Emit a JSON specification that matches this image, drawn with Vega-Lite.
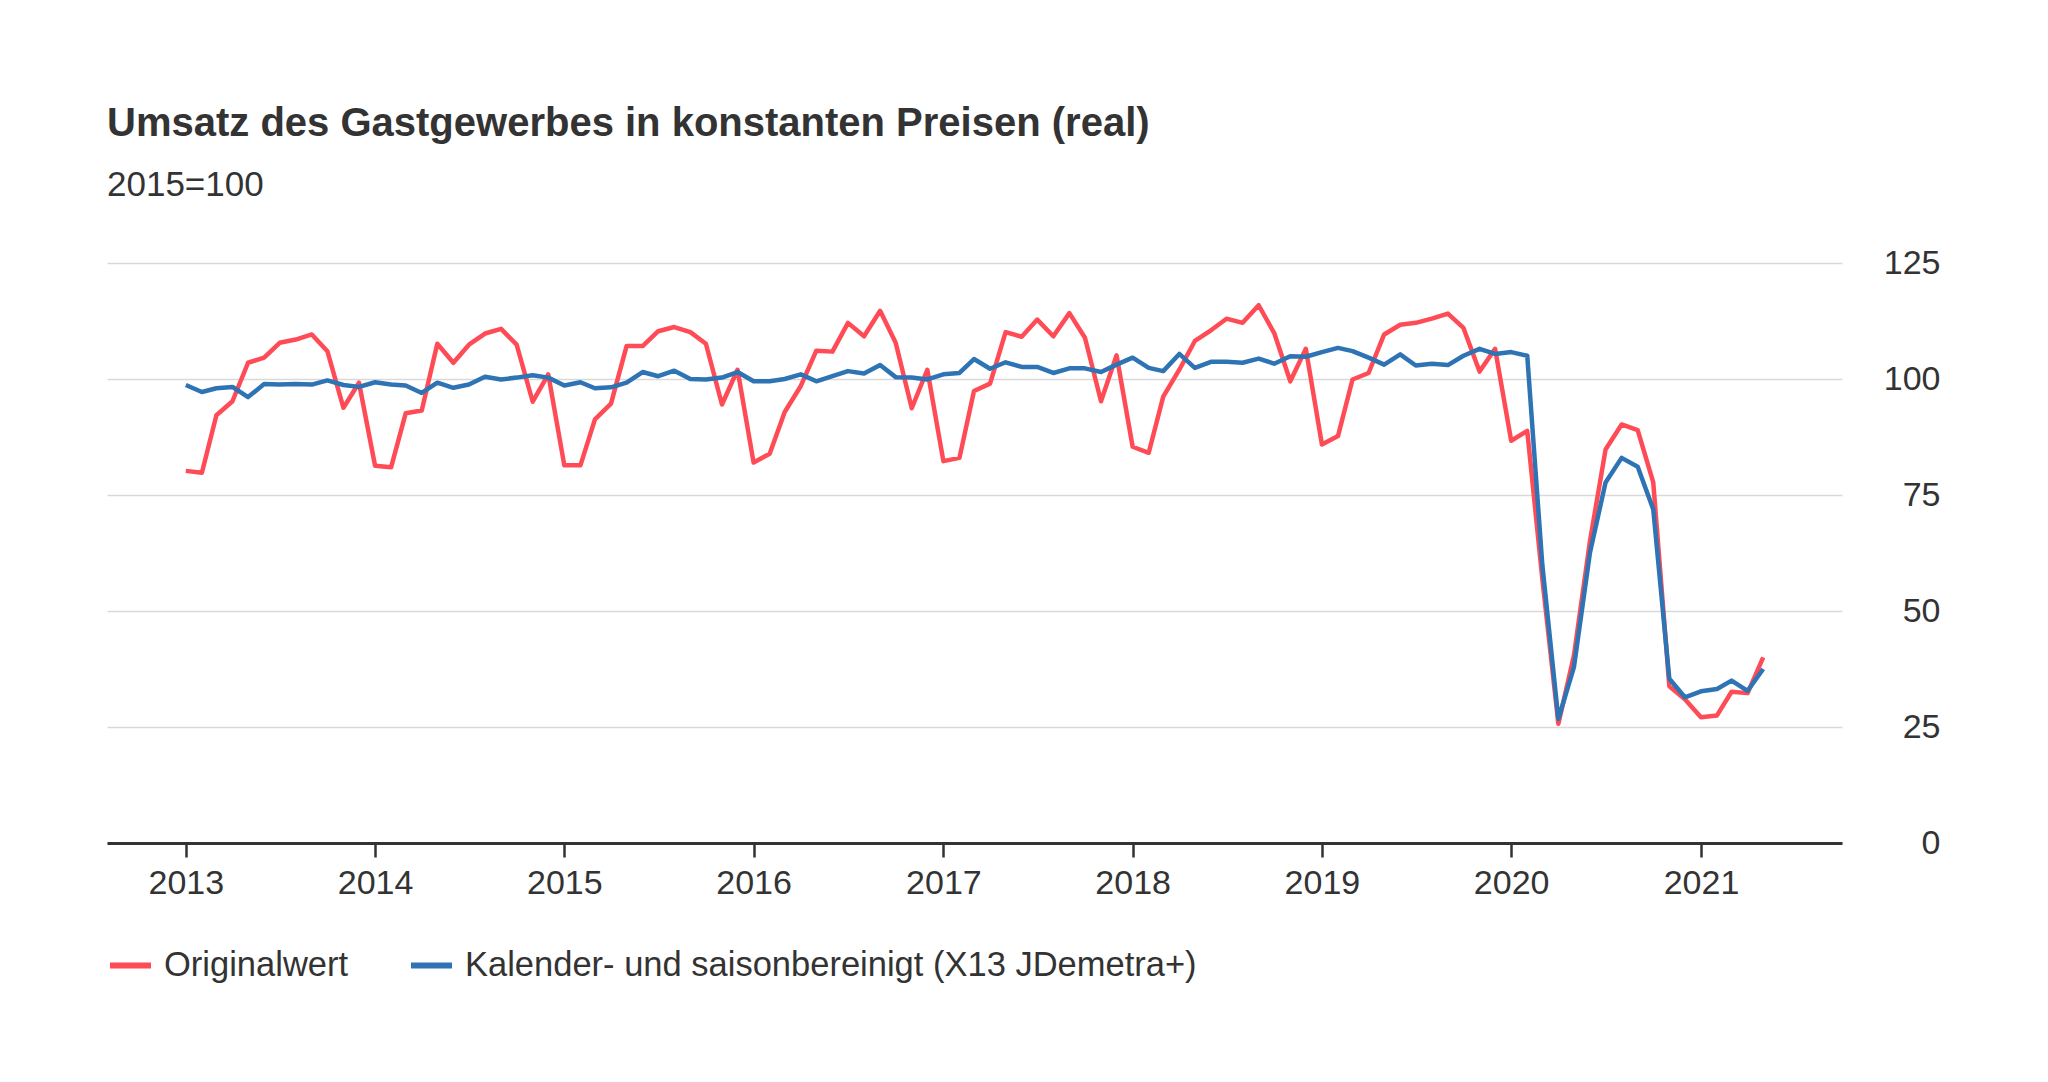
{
  "$schema": "https://vega.github.io/schema/vega-lite/v6.json",
  "background": "white",
  "padding": {"left": 107, "top": 104, "right": 20, "bottom": 20},
  "width": 1735,
  "height": 580,
  "title": {
    "text": "Umsatz des Gastgewerbes in konstanten Preisen (real)",
    "subtitle": "2015=100",
    "anchor": "start",
    "frame": "group",
    "font": "Liberation Sans",
    "fontSize": 40,
    "fontWeight": "bold",
    "color": "#333333",
    "subtitleFont": "Liberation Sans",
    "subtitleFontSize": 35,
    "subtitleColor": "#333333",
    "subtitlePadding": 24,
    "offset": 43
  },
  "data": {
    "values": [
      {"monat": "2013-01-01", "orig": 80.2, "sa": 98.7},
      {"monat": "2013-02-01", "orig": 79.8, "sa": 97.2},
      {"monat": "2013-03-01", "orig": 92.2, "sa": 98.0},
      {"monat": "2013-04-01", "orig": 95.2, "sa": 98.3},
      {"monat": "2013-05-01", "orig": 103.5, "sa": 96.1},
      {"monat": "2013-06-01", "orig": 104.6, "sa": 98.9},
      {"monat": "2013-07-01", "orig": 107.8, "sa": 98.8},
      {"monat": "2013-08-01", "orig": 108.5, "sa": 98.9},
      {"monat": "2013-09-01", "orig": 109.6, "sa": 98.8},
      {"monat": "2013-10-01", "orig": 106.0, "sa": 99.7},
      {"monat": "2013-11-01", "orig": 93.8, "sa": 98.7},
      {"monat": "2013-12-01", "orig": 99.2, "sa": 98.3},
      {"monat": "2014-01-01", "orig": 81.3, "sa": 99.3},
      {"monat": "2014-02-01", "orig": 81.0, "sa": 98.8},
      {"monat": "2014-03-01", "orig": 92.6, "sa": 98.6},
      {"monat": "2014-04-01", "orig": 93.2, "sa": 97.0},
      {"monat": "2014-05-01", "orig": 107.6, "sa": 99.2},
      {"monat": "2014-06-01", "orig": 103.5, "sa": 98.1},
      {"monat": "2014-07-01", "orig": 107.4, "sa": 98.8},
      {"monat": "2014-08-01", "orig": 109.8, "sa": 100.5},
      {"monat": "2014-09-01", "orig": 110.8, "sa": 99.9},
      {"monat": "2014-10-01", "orig": 107.4, "sa": 100.3},
      {"monat": "2014-11-01", "orig": 95.1, "sa": 100.8},
      {"monat": "2014-12-01", "orig": 101.0, "sa": 100.3},
      {"monat": "2015-01-01", "orig": 81.4, "sa": 98.6},
      {"monat": "2015-02-01", "orig": 81.4, "sa": 99.3},
      {"monat": "2015-03-01", "orig": 91.3, "sa": 98.0},
      {"monat": "2015-04-01", "orig": 94.7, "sa": 98.2},
      {"monat": "2015-05-01", "orig": 107.1, "sa": 99.2},
      {"monat": "2015-06-01", "orig": 107.1, "sa": 101.5},
      {"monat": "2015-07-01", "orig": 110.3, "sa": 100.6},
      {"monat": "2015-08-01", "orig": 111.2, "sa": 101.8},
      {"monat": "2015-09-01", "orig": 110.1, "sa": 100.0},
      {"monat": "2015-10-01", "orig": 107.6, "sa": 99.9},
      {"monat": "2015-11-01", "orig": 94.5, "sa": 100.3},
      {"monat": "2015-12-01", "orig": 102.0, "sa": 101.5},
      {"monat": "2016-01-01", "orig": 82.0, "sa": 99.5},
      {"monat": "2016-02-01", "orig": 83.9, "sa": 99.5},
      {"monat": "2016-03-01", "orig": 92.9, "sa": 100.0},
      {"monat": "2016-04-01", "orig": 98.5, "sa": 101.0},
      {"monat": "2016-05-01", "orig": 106.1, "sa": 99.5},
      {"monat": "2016-06-01", "orig": 105.9, "sa": 100.6},
      {"monat": "2016-07-01", "orig": 112.1, "sa": 101.7},
      {"monat": "2016-08-01", "orig": 109.2, "sa": 101.2},
      {"monat": "2016-09-01", "orig": 114.7, "sa": 103.0},
      {"monat": "2016-10-01", "orig": 107.8, "sa": 100.4},
      {"monat": "2016-11-01", "orig": 93.7, "sa": 100.3},
      {"monat": "2016-12-01", "orig": 102.0, "sa": 99.9},
      {"monat": "2017-01-01", "orig": 82.3, "sa": 101.0},
      {"monat": "2017-02-01", "orig": 83.0, "sa": 101.3},
      {"monat": "2017-03-01", "orig": 97.4, "sa": 104.3},
      {"monat": "2017-04-01", "orig": 99.0, "sa": 102.2},
      {"monat": "2017-05-01", "orig": 110.1, "sa": 103.6},
      {"monat": "2017-06-01", "orig": 109.1, "sa": 102.6},
      {"monat": "2017-07-01", "orig": 112.8, "sa": 102.6},
      {"monat": "2017-08-01", "orig": 109.2, "sa": 101.3},
      {"monat": "2017-09-01", "orig": 114.2, "sa": 102.3},
      {"monat": "2017-10-01", "orig": 108.9, "sa": 102.3},
      {"monat": "2017-11-01", "orig": 95.2, "sa": 101.5},
      {"monat": "2017-12-01", "orig": 105.1, "sa": 103.1},
      {"monat": "2018-01-01", "orig": 85.4, "sa": 104.6},
      {"monat": "2018-02-01", "orig": 84.1, "sa": 102.4},
      {"monat": "2018-03-01", "orig": 96.2, "sa": 101.7},
      {"monat": "2018-04-01", "orig": 102.0, "sa": 105.4},
      {"monat": "2018-05-01", "orig": 108.2, "sa": 102.4},
      {"monat": "2018-06-01", "orig": 110.5, "sa": 103.7},
      {"monat": "2018-07-01", "orig": 113.0, "sa": 103.7},
      {"monat": "2018-08-01", "orig": 112.1, "sa": 103.5},
      {"monat": "2018-09-01", "orig": 115.9, "sa": 104.4},
      {"monat": "2018-10-01", "orig": 109.9, "sa": 103.3},
      {"monat": "2018-11-01", "orig": 99.5, "sa": 104.9},
      {"monat": "2018-12-01", "orig": 106.5, "sa": 104.8},
      {"monat": "2019-01-01", "orig": 85.9, "sa": 105.8},
      {"monat": "2019-02-01", "orig": 87.7, "sa": 106.7},
      {"monat": "2019-03-01", "orig": 99.9, "sa": 106.0},
      {"monat": "2019-04-01", "orig": 101.3, "sa": 104.6},
      {"monat": "2019-05-01", "orig": 109.6, "sa": 103.1},
      {"monat": "2019-06-01", "orig": 111.7, "sa": 105.3},
      {"monat": "2019-07-01", "orig": 112.1, "sa": 102.9},
      {"monat": "2019-08-01", "orig": 113.0, "sa": 103.3},
      {"monat": "2019-09-01", "orig": 114.1, "sa": 103.0},
      {"monat": "2019-10-01", "orig": 111.0, "sa": 105.0},
      {"monat": "2019-11-01", "orig": 101.6, "sa": 106.5},
      {"monat": "2019-12-01", "orig": 106.5, "sa": 105.4},
      {"monat": "2020-01-01", "orig": 86.7, "sa": 105.8},
      {"monat": "2020-02-01", "orig": 88.8, "sa": 105.0},
      {"monat": "2020-03-01", "orig": 57.0, "sa": 60.0},
      {"monat": "2020-04-01", "orig": 25.7, "sa": 26.7},
      {"monat": "2020-05-01", "orig": 40.4, "sa": 37.9},
      {"monat": "2020-06-01", "orig": 65.1, "sa": 62.6},
      {"monat": "2020-07-01", "orig": 84.8, "sa": 77.7},
      {"monat": "2020-08-01", "orig": 90.2, "sa": 83.0},
      {"monat": "2020-09-01", "orig": 89.0, "sa": 81.1},
      {"monat": "2020-10-01", "orig": 77.7, "sa": 71.9},
      {"monat": "2020-11-01", "orig": 33.8, "sa": 35.4},
      {"monat": "2020-12-01", "orig": 31.0, "sa": 31.4},
      {"monat": "2021-01-01", "orig": 27.1, "sa": 32.7},
      {"monat": "2021-02-01", "orig": 27.5, "sa": 33.2},
      {"monat": "2021-03-01", "orig": 32.6, "sa": 35.0},
      {"monat": "2021-04-01", "orig": 32.3, "sa": 32.8},
      {"monat": "2021-05-01", "orig": 40.0, "sa": 37.5}
    ]
  },
  "transform": [
    {"fold": ["orig", "sa"], "as": ["reihe", "wert"]}
  ],
  "mark": {"type": "line", "strokeWidth": 4.5, "strokeJoin": "round", "strokeCap": "butt"},
  "encoding": {
    "x": {
      "field": "monat",
      "type": "temporal",
      "scale": {
        "type": "utc",
        "domain": [
          {"year": 2012, "month": 8, "date": 2, "utc": true},
          {"year": 2021, "month": 9, "date": 30, "utc": true}
        ]
      },
      "axis": {
        "title": null,
        "format": "%Y",
        "values": [
          {"year": 2013, "month": 1, "date": 1, "utc": true},
          {"year": 2014, "month": 1, "date": 1, "utc": true},
          {"year": 2015, "month": 1, "date": 1, "utc": true},
          {"year": 2016, "month": 1, "date": 1, "utc": true},
          {"year": 2017, "month": 1, "date": 1, "utc": true},
          {"year": 2018, "month": 1, "date": 1, "utc": true},
          {"year": 2019, "month": 1, "date": 1, "utc": true},
          {"year": 2020, "month": 1, "date": 1, "utc": true},
          {"year": 2021, "month": 1, "date": 1, "utc": true}
        ],
        "grid": false,
        "domainColor": "#333333",
        "domainWidth": 3,
        "tickColor": "#333333",
        "tickWidth": 2.5,
        "tickSize": 14,
        "labelPadding": 9,
        "labelFont": "Liberation Sans",
        "labelFontSize": 34,
        "labelColor": "#333333"
      }
    },
    "y": {
      "field": "wert",
      "type": "quantitative",
      "scale": {"domain": [0, 125], "nice": false, "zero": true},
      "axis": {
        "title": null,
        "orient": "right",
        "values": [0, 25, 50, 75, 100, 125],
        "domain": false,
        "ticks": false,
        "tickSize": 0,
        "grid": true,
        "gridColor": "#d9d9d9",
        "gridWidth": 1.5,
        "labelAlign": "right",
        "labelBaseline": "middle",
        "labelPadding": 98,
        "labelFont": "Liberation Sans",
        "labelFontSize": 34,
        "labelColor": "#333333"
      }
    },
    "color": {
      "field": "reihe",
      "type": "nominal",
      "scale": {"domain": ["orig", "sa"], "range": ["#ff4b55", "#2e74b5"]},
      "legend": {
        "title": null,
        "orient": "bottom",
        "direction": "horizontal",
        "offset": 42,
        "symbolType": "stroke",
        "symbolSize": 1681,
        "symbolStrokeWidth": 6,
        "labelOffset": 10,
        "columnPadding": 50,
        "labelFont": "Liberation Sans",
        "labelFontSize": 34.5,
        "labelColor": "#333333",
        "labelLimit": 1200,
        "labelExpr": "datum.value == 'orig' ? 'Originalwert' : 'Kalender- und saisonbereinigt (X13 JDemetra+)'"
      }
    }
  },
  "config": {
    "view": {"stroke": null},
    "font": "Liberation Sans"
  }
}
